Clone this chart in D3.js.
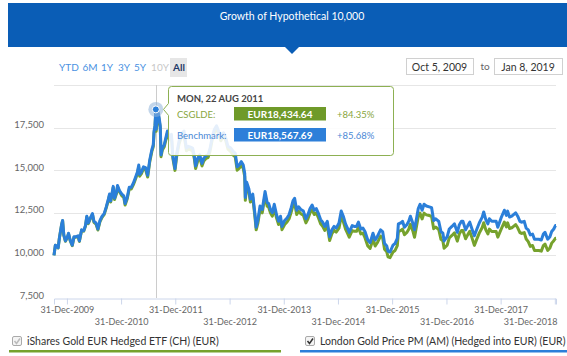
<!DOCTYPE html>
<html><head><meta charset="utf-8">
<script src="https://cdn.jsdelivr.net/npm/d3@7"></script>
<style>body{margin:0;background:#fff;} svg{display:block;font-family:Lato,sans-serif;}</style>
</head><body><svg id="c" width="567" height="356"></svg>
<script>
const title = "Growth of Hypothetical 10,000";
const rangeButtons = ["YTD","6M","1Y","3Y","5Y","10Y","All"];
const fromDate = "Oct 5, 2009";
const toDate = "Jan 8, 2019";
const yTicks = [7500,10000,12500,15000,17500,20000];
const yTickLabels = ["7,500","10,000","12,500","15,000","17,500",""];
const xTickDates = ["2009-12-31","2010-12-31","2011-12-31","2012-12-31","2013-12-31","2014-12-31","2015-12-31","2016-12-31","2017-12-31","2018-12-31"];
const seriesNames = ["iShares Gold EUR Hedged ETF (CH) (EUR)","London Gold Price PM (AM) (Hedged into EUR) (EUR)"];
const tooltipDate = "MON, 22 AUG 2011";
const hoverDate = "2011-08-22";
const tooltipLabels = ["CSGLDE:","Benchmark:"];
const tooltipValues = ["EUR18,434.64","EUR18,567.69"];
const tooltipChanges = ["+84.35%","+85.68%"];

const dates = [
"2009-10-05","2009-10-14","2009-10-22","2009-11-02","2009-11-10","2009-11-25","2009-12-02","2009-12-10","2009-12-21",
"2010-01-04","2010-01-11","2010-01-22","2010-02-05","2010-02-17","2010-03-02","2010-03-16","2010-03-25","2010-04-09","2010-04-23","2010-05-05","2010-05-14","2010-05-24","2010-06-07","2010-06-21","2010-07-01","2010-07-15","2010-07-28","2010-08-11","2010-08-25","2010-09-08","2010-09-22","2010-10-06","2010-10-14","2010-10-22","2010-11-08","2010-11-17","2010-11-30","2010-12-07","2010-12-20",
"2011-01-05","2011-01-18","2011-01-27","2011-02-10","2011-02-24","2011-03-10","2011-03-24","2011-04-08","2011-04-20","2011-04-29","2011-05-05","2011-05-17","2011-05-31","2011-06-14","2011-06-28","2011-07-12","2011-07-26","2011-08-05","2011-08-10","2011-08-16","2011-08-22","2011-08-24","2011-09-05","2011-09-13","2011-09-21","2011-09-26","2011-10-05","2011-10-18","2011-11-08","2011-11-22","2011-12-05","2011-12-15","2011-12-29",
"2012-01-10","2012-01-25","2012-02-09","2012-02-28","2012-03-05","2012-03-15","2012-03-28","2012-04-12","2012-04-26","2012-05-08","2012-05-16","2012-05-30","2012-06-13","2012-06-28","2012-07-10","2012-07-25","2012-08-08","2012-08-22","2012-09-06","2012-09-20","2012-10-04","2012-10-18","2012-11-02","2012-11-20","2012-12-05","2012-12-20",
"2013-01-08","2013-01-24","2013-02-07","2013-02-20","2013-03-05","2013-03-20","2013-04-02","2013-04-12","2013-04-16","2013-04-25","2013-05-10","2013-05-20","2013-06-05","2013-06-20","2013-06-28","2013-07-10","2013-07-24","2013-08-08","2013-08-27","2013-09-10","2013-09-20","2013-10-02","2013-10-15","2013-10-28","2013-11-12","2013-11-26","2013-12-09","2013-12-19",
"2014-01-06","2014-01-22","2014-02-05","2014-02-19","2014-03-03","2014-03-14","2014-03-28","2014-04-10","2014-04-25","2014-05-12","2014-05-29","2014-06-12","2014-06-26","2014-07-10","2014-07-24","2014-08-07","2014-08-22","2014-09-05","2014-09-19","2014-10-03","2014-10-20","2014-11-05","2014-11-20","2014-12-05","2014-12-19",
"2015-01-07","2015-01-22","2015-02-05","2015-02-20","2015-03-05","2015-03-17","2015-04-06","2015-04-20","2015-05-05","2015-05-18","2015-06-03","2015-06-17","2015-07-01","2015-07-20","2015-08-05","2015-08-24","2015-09-08","2015-09-22","2015-10-14","2015-10-28","2015-11-10","2015-11-25","2015-12-03","2015-12-17",
"2016-01-06","2016-01-20","2016-02-04","2016-02-11","2016-02-26","2016-03-10","2016-03-23","2016-04-08","2016-04-21","2016-05-02","2016-05-18","2016-05-30","2016-06-13","2016-06-24","2016-07-06","2016-07-20","2016-08-02","2016-08-18","2016-09-06","2016-09-22","2016-10-06","2016-10-20","2016-11-09","2016-11-24","2016-12-07","2016-12-15",
"2017-01-05","2017-01-19","2017-02-06","2017-02-23","2017-03-14","2017-03-28","2017-04-11","2017-04-21","2017-05-09","2017-05-24","2017-06-06","2017-06-21","2017-07-07","2017-07-24","2017-08-09","2017-08-29","2017-09-08","2017-09-22","2017-10-06","2017-10-16","2017-11-01","2017-11-15","2017-12-01","2017-12-12",
"2018-01-03","2018-01-25","2018-02-08","2018-02-16","2018-03-01","2018-03-16","2018-04-11","2018-04-25","2018-05-10","2018-05-21","2018-06-08","2018-06-21","2018-07-05","2018-07-19","2018-08-03","2018-08-16","2018-09-04","2018-09-14","2018-10-01","2018-10-15","2018-10-26","2018-11-13","2018-11-28","2018-12-10","2018-12-24",
"2019-01-04","2019-01-08"
];

const benchmarkValues = [
10000,10600,10550,10450,11000,11800,12050,11200,10850,
11100,11300,10900,10600,11100,11100,11150,10850,11500,11450,11750,12300,11900,12200,12450,12000,11900,11550,12050,12300,12450,12850,13300,13600,13200,14050,13350,13700,14100,13800,
13600,13500,13050,13400,14000,14000,14250,14600,14900,15300,14750,14900,15200,15150,14700,15600,16200,16500,17300,17600,18567.69,17400,18450,18100,17600,15900,16300,16500,17300,16900,17100,15800,15100,
16000,16700,17100,17300,16900,16300,16400,16350,16300,15800,15250,15700,15900,15400,15700,15850,15900,16300,17000,17400,17600,17300,16900,17200,16900,16400,
16300,16100,16000,15200,15300,15500,15300,14800,13400,14300,13900,13300,13600,12400,11650,12100,12900,12700,13750,13100,13050,12700,12500,13000,12400,12000,12300,11700,
12050,12200,12400,12800,13200,13350,12650,12850,12700,12600,12150,12400,12750,12950,12650,12750,12450,12100,11950,11700,12000,11100,11500,11700,11600,
11900,12600,12300,11850,11600,11350,11750,11700,11700,11950,11550,11600,11400,10900,10750,11300,10900,11100,11500,11400,10700,10550,10250,10200,
10600,10700,11000,11850,11900,12000,11650,11800,12000,12300,11900,11500,12200,12750,13000,12650,13000,12900,12850,12800,12050,12150,12000,11400,11300,10850,
11100,11550,11700,11850,11350,11800,12000,12000,11500,11750,11950,11550,11150,11550,11900,12250,12550,12100,11850,12150,12000,12000,12000,11650,
12200,12650,12350,12600,12250,12300,12500,12300,12000,11950,12000,11600,11500,11200,11250,10950,10950,10950,10900,11250,11350,10950,11100,11400,11550,
11750,11750
];

const etfValues = [
10000,10590,10540,10440,10990,11780,12030,11180,10830,
11070,11270,10870,10570,11070,11070,11120,10820,11470,11420,11710,12260,11860,12160,12410,11940,11840,11490,11990,12240,12390,12790,13230,13530,13130,13980,13280,13630,14030,13730,
13500,13410,12960,13310,13900,13900,14150,14500,14800,15190,14650,14800,15090,15040,14600,15490,16090,16380,17180,17480,18434.64,17280,18320,17970,17480,15790,16190,16380,17180,16780,16980,15690,14990,
15840,16530,16930,17130,16730,16140,16240,16190,16140,15640,15100,15540,15740,15250,15540,15690,15740,16140,16830,17230,17420,17130,16730,17030,16730,16240,
16090,15890,15790,15000,15100,15300,15100,14610,13230,14110,13720,13130,13420,12240,11500,11910,12690,12500,13530,12890,12840,12500,12300,12790,12200,11810,12100,11510,
11810,11960,12150,12540,12940,13080,12400,12590,12450,12350,11910,12150,12500,12690,12400,12500,12200,11860,11710,11470,11760,10880,11270,11470,11370,
11600,12290,11990,11550,11310,11070,11460,11410,11410,11650,11260,11310,11040,10550,10410,10940,10550,10740,11130,11040,10360,10210,9920,9870,
10200,10290,10580,11400,11450,11540,11210,11350,11540,11830,11450,11060,11740,12270,12480,12140,12480,12380,12340,12290,11570,11660,11520,10940,10850,10420,
10600,11030,11170,11320,10840,11270,11460,11460,10980,11220,11410,11030,10590,10970,11310,11640,11920,11500,11260,11540,11400,11400,11400,11070,
11530,11950,11670,11910,11580,11620,11810,11620,11340,11290,11340,10960,10810,10530,10580,10290,10290,10290,10250,10580,10670,10290,10430,10720,10860,
11000,11000
];

const parse = d3.timeParse("%Y-%m-%d");
const W = 567, H = 356;
const svg = d3.select("#c");
const GREEN = "#76a22d", BLUE = "#2b7fd9";

// Header
svg.append("rect").attr("x",8).attr("y",3).attr("width",W-8).attr("height",44).attr("fill","#0a5db6");
svg.append("path").attr("d","M284,46 L300,46 L292,54 Z").attr("fill","#0a5db6");
svg.append("text").attr("x",292).attr("y",19.5).attr("text-anchor","middle").attr("fill","#fff")
  .attr("font-size",10.5).text(title);

// Range selector
const btnX = [69,90,107,124,140,160,179];
svg.append("rect").attr("x",170).attr("y",58).attr("width",17).attr("height",19).attr("fill","#e6e6e6");
rangeButtons.forEach((b,i)=>{
  svg.append("text").attr("x",btnX[i]).attr("y",71).attr("text-anchor","middle")
    .attr("font-size",10).attr("font-weight", b==="All"?"bold":"normal")
    .attr("fill", b==="All" ? "#1f3a66" : (b==="10Y" ? "#c8c8c8" : "#4a92e2")).text(b);
});
// date inputs
[[406,67,fromDate],[494,68,toDate]].forEach(([x,w,t])=>{
  svg.append("rect").attr("x",x+0.5).attr("y",58.5).attr("width",w).attr("height",16).attr("fill","#fff").attr("stroke","#d0d0d0");
  svg.append("text").attr("x",x+w/2).attr("y",70.5).attr("text-anchor","middle").attr("font-size",10.5).attr("fill","#333").text(t);
});
svg.append("text").attr("x",485).attr("y",70).attr("text-anchor","middle").attr("font-size",10).attr("fill","#666").text("to");

// Scales
const x = d3.scaleTime().domain([parse("2009-10-05"), parse("2019-01-08")]).range([54,556]);
const y = d3.scaleLinear().domain([7500,20000]).range([298,85]);

// Grid
svg.append("g").selectAll("line").data(yTicks.slice(1)).join("line")
  .attr("x1",54).attr("x2",556).attr("y1",d=>Math.round(y(d))+0.5).attr("y2",d=>Math.round(y(d))+0.5)
  .attr("stroke","#e6e6e6");
// Y labels
svg.append("g").selectAll("text").data(yTicks).join("text")
  .attr("x",44).attr("y",(d)=>y(d)+0.5).attr("text-anchor","end").attr("font-size",9.5).attr("fill","#666")
  .text((d,i)=>yTickLabels[i]);

// X axis
const xAxis = d3.axisBottom(x).tickValues(xTickDates.map(parse)).tickSize(6).tickFormat(d3.timeFormat("%d-%b-%Y"));
const gx = svg.append("g").attr("transform","translate(0,298.5)").call(xAxis);
gx.select(".domain").attr("stroke","#ccd6eb");
gx.selectAll(".tick line").attr("stroke","#ccd6eb");
const nT = xTickDates.length;
gx.selectAll(".tick text").attr("font-size",9).attr("fill","#666").attr("font-family","Lato,sans-serif")
  .attr("dy",0).attr("y",(d,i)=> i%2===0 ? 14 : 26)
  .attr("text-anchor",(d,i)=> i===nT-1 ? "end" : "middle")
  .attr("x",(d,i)=> i===nT-1 ? 557 - x(d) : 0);

// Crosshair
const hx = Math.round(x(parse(hoverDate)))+0.5;
svg.append("line").attr("x1",hx).attr("x2",hx).attr("y1",85).attr("y2",298).attr("stroke","#cccccc");

// Lines
const pts = dates.map(parse);
const line = d3.line().x((d,i)=>x(pts[i])).y(d=>y(d)).curve(d3.curveLinear);
svg.append("path").datum(etfValues).attr("d",line).attr("fill","none").attr("stroke",GREEN).attr("stroke-width",3).attr("stroke-linejoin","round");
svg.append("path").datum(benchmarkValues).attr("d",line).attr("fill","none").attr("stroke",BLUE).attr("stroke-width",3).attr("stroke-linejoin","round");

// Hover marker
const hi = dates.indexOf(hoverDate);
const my = y(benchmarkValues[hi]);
svg.append("circle").attr("cx",x(pts[hi])).attr("cy",my).attr("r",7.5).attr("fill","#8fb3d9").attr("opacity",0.55);
svg.append("circle").attr("cx",x(pts[hi])).attr("cy",my).attr("r",3.5).attr("fill",BLUE).attr("stroke","#fff").attr("stroke-width",1);

// Tooltip
const tx0 = 168.5, ty0 = 86.5, tx1 = 393.5, ty1 = 155.5, ay = my;
svg.append("path").attr("d",`M${tx0+3},${ty0} L${tx1-3},${ty0} Q${tx1},${ty0} ${tx1},${ty0+3} L${tx1},${ty1-3} Q${tx1},${ty1} ${tx1-3},${ty1} L${tx0+3},${ty1} Q${tx0},${ty1} ${tx0},${ty1-3} L${tx0},${ay+6} L${tx0-5},${ay} L${tx0},${ay-6} L${tx0},${ty0+3} Q${tx0},${ty0} ${tx0+3},${ty0} Z`)
  .attr("fill","rgba(255,255,255,0.88)").attr("stroke","#8db052").attr("stroke-width",1);
svg.append("text").attr("x",177).attr("y",101.5).attr("font-size",9.5).attr("font-weight","bold").attr("fill","#444").text(tooltipDate);
const rowsY = [107,128];
const labCols = ["#88a640","#4a88d6"];
const boxCols = ["#6f9a29","#2d7fd9"];
tooltipLabels.forEach((l,i)=>{
  svg.append("text").attr("x",177).attr("y",rowsY[i]+10.5).attr("font-size",9.5).attr("fill",labCols[i]).text(l);
  svg.append("rect").attr("x",234).attr("y",rowsY[i]).attr("width",92).attr("height",13.5).attr("fill",boxCols[i]);
  svg.append("text").attr("x",280).attr("y",rowsY[i]+10.5).attr("text-anchor","middle").attr("font-size",10).attr("font-weight","bold").attr("fill","#fff").text(tooltipValues[i]);
  svg.append("text").attr("x",337).attr("y",rowsY[i]+10.5).attr("font-size",9.5).attr("fill",labCols[i]).text(tooltipChanges[i]);
});

// Legend
const legX = [[9,281,GREEN,17,"#bbb"],[300,567,BLUE,310,"#333"]];
seriesNames.forEach((n,i)=>{
  const [a,b,c,cx,cc] = legX[i];
  svg.append("rect").attr("x",cx-4.5).attr("y",336.5).attr("width",9).attr("height",9).attr("rx",1.5).attr("fill","#f4f4f4").attr("stroke","#aaa");
  svg.append("path").attr("d",`M${cx-2.5},${341} L${cx-0.5},${343.5} L${cx+3},${338.5}`).attr("fill","none").attr("stroke",cc).attr("stroke-width",1.5);
  svg.append("text").attr("x",cx+10).attr("y",344.5).attr("font-size",10.5).attr("fill","#333").text(n);
  svg.append("rect").attr("x",a).attr("y",350).attr("width",b-a).attr("height",2.5).attr("fill",c);
});
</script></body></html>
